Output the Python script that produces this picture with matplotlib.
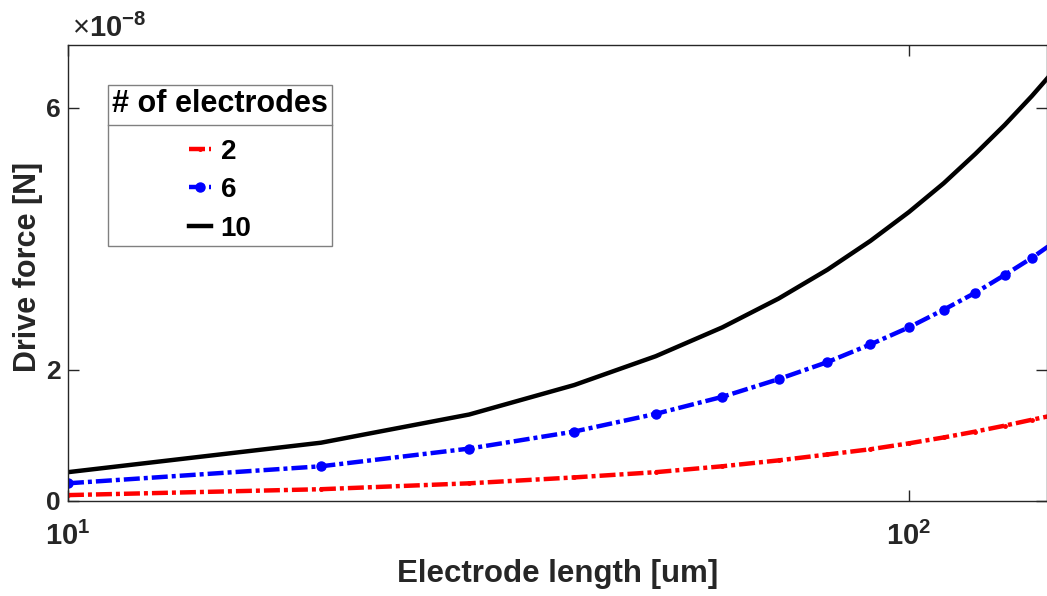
import matplotlib
matplotlib.use("Agg")
import matplotlib.pyplot as plt
import numpy as np

plt.rcParams['font.family'] = ['Liberation Sans', 'DejaVu Sans']
plt.rcParams['mathtext.fontset'] = 'custom'
plt.rcParams['mathtext.rm'] = 'Liberation Sans'
plt.rcParams['mathtext.bf'] = 'Liberation Sans:bold'

# Data (force in units of 1e-8 N)
electrode_length = [10, 20, 30, 40, 50, 60, 70, 80, 90, 100, 110, 120, 130, 140, 150]
force_2 = [0.09, 0.18, 0.27, 0.36, 0.44, 0.53, 0.62, 0.71, 0.79, 0.88, 0.97, 1.06, 1.15, 1.24, 1.32]
force_6 = [0.27, 0.53, 0.80, 1.06, 1.33, 1.59, 1.86, 2.12, 2.39, 2.65, 2.92, 3.18, 3.45, 3.71, 3.98]
force_10 = [0.44, 0.89, 1.32, 1.77, 2.21, 2.65, 3.09, 3.53, 3.97, 4.41, 4.85, 5.30, 5.74, 6.18, 6.62]
legend_labels = ['2', '6', '10']
legend_title = '# of electrodes'
y_ticks = [0, 2, 6]
x_ticks = [10, 100]
x_tick_labels = [r'$\mathbf{10^{1}}$', r'$\mathbf{10^{2}}$']
scale = 1e-8

fig = plt.figure(figsize=(10.47, 5.96), dpi=100)
ax = fig.add_axes([0.0649, 0.1594, 0.935, 0.7651])

x = np.array(electrode_length)
dash = (3.6, 0.9, 0.9, 0.9)
ax.plot(x, np.array(force_2) * scale, color='#ff0000', ls='-.', lw=3.2, marker='.', ms=5,
        label=legend_labels[0], dashes=dash)
ax.plot(x, np.array(force_6) * scale, color='#0000ff', ls='-.', lw=3.2, marker='o', ms=6.5,
        label=legend_labels[1], dashes=dash)
ax.plot(x, np.array(force_10) * scale, color='black', ls='-', lw=3.2, label=legend_labels[2])

ax.set_xscale('log')
ax.set_xlim(10, 10 ** (1 + 979 / 841))
ax.set_ylim(0, 6.96e-8)

ax.set_xticks(x_ticks)
ax.set_xticklabels(x_tick_labels, fontsize=21)
ax.xaxis.set_minor_locator(matplotlib.ticker.NullLocator())
ax.set_yticks([v * scale for v in y_ticks])
ax.set_yticklabels([str(v) for v in y_ticks], fontsize=19, fontweight='bold')
ax.tick_params(direction='in', length=8, width=1, colors='#262626', top=True, right=True)
ax.tick_params(axis='x', pad=15)
ax.tick_params(axis='y', pad=5)
for sp in ax.spines.values():
    sp.set_color('#262626')
    sp.set_linewidth(1)

ax.set_xlabel('Electrode length [um]', fontsize=22.5, fontweight='bold', color='#262626', labelpad=6)
ax.set_ylabel('Drive force [N]', fontsize=22, fontweight='bold', color='#262626')
ax.yaxis.set_label_coords((43 - 68) / 979, 0.5 + 6 / 456)

fig.text(72 / 1047, 1 - 28 / 596, r'$\times\mathbf{10^{-8}}$', fontsize=21, color='#262626',
         ha='left', va='center')

leg = ax.legend(title=legend_title, loc='upper left', bbox_to_anchor=(40 / 979, 416 / 456),
                fontsize=20, title_fontproperties={'weight': 'bold', 'size': 22},
                prop={'weight': 'bold', 'size': 20}, handlelength=0.8, handletextpad=0.35,
                borderpad=0.15, borderaxespad=0, labelspacing=0.45, frameon=True, fancybox=False,
                edgecolor='#808080', framealpha=1)
leg.get_frame().set_linewidth(1)
leg._legend_box.sep = 14

fig.canvas.draw()
renderer = fig.canvas.get_renderer()
fb = leg.get_frame().get_window_extent(renderer)
tb = leg.get_title().get_window_extent(renderer)
inv = fig.transFigure.inverted()
ysep = inv.transform((0, tb.y0 - 6))[1]
x0 = inv.transform((fb.x0, 0))[0]
x1 = inv.transform((fb.x1, 0))[0]
fig.add_artist(matplotlib.lines.Line2D([x0, x1], [ysep, ysep], color='#808080', lw=1, zorder=10))

fig.savefig('out.png', dpi=100)
